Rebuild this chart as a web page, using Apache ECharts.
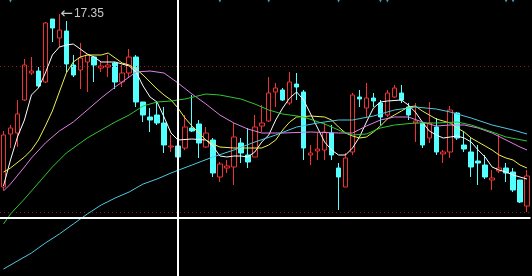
<!DOCTYPE html>
<html><head><meta charset="utf-8">
<script src="https://cdn.jsdelivr.net/npm/echarts/dist/echarts.min.js"></script>
<style>html,body{margin:0;padding:0;background:#000;}#c{width:532px;height:276px;}</style>
</head><body><div id="c"></div>
<script>
// ---- data ----
const opens = [13.89,14.95,14.97,15.63,16.17,16.21,15.99,17.25,16.87,17.01,
16.33,16.23,16.39,16.49,16.27,16.29,16.37,15.99,16.17,16.49,
15.59,15.29,15.33,15.17,14.69,14.71,14.67,15.07,15.15,14.69,
14.83,14.09,14.27,14.29,14.77,14.53,14.49,15.11,15.21,15.79,
15.83,15.57,15.95,15.79,14.53,14.61,14.63,14.97,14.27,13.89,
14.59,15.69,15.47,15.67,15.57,15.33,15.69,15.77,15.49,15.17,
15.17,14.87,15.09,14.55,14.59,15.37,14.73,14.59,14.41,14.33,
14.03,14.21,14.27,14.19,14.03,13.51];
const closes = [14.93,15.07,15.35,16.33,16.21,15.91,17.17,17.07,17.03,16.35,
16.13,16.47,16.53,16.33,16.31,16.33,15.99,16.17,16.49,15.59,
15.33,15.23,15.17,14.73,14.71,14.49,15.09,15.01,14.77,14.97,
14.17,14.35,14.31,14.89,14.57,14.39,15.09,15.17,15.77,15.87,
15.63,15.99,15.89,14.67,14.57,14.65,14.99,14.53,14.09,14.47,
15.73,15.65,15.67,15.61,15.29,15.77,15.87,15.63,15.33,15.21,
14.73,15.17,14.59,14.59,15.43,14.87,14.65,14.29,14.37,14.09,
14.07,14.27,14.17,13.83,13.59,14.11];
const lows = [13.83,14.67,14.69,15.61,16.13,15.89,15.97,16.79,16.69,16.19,
16.09,15.85,15.79,15.99,16.19,16.09,15.85,15.89,16.09,15.49,
15.19,14.99,15.13,14.57,14.59,14.43,14.63,14.99,14.47,14.67,
14.09,13.99,14.17,13.93,14.37,14.27,14.49,14.99,15.19,15.49,
15.61,15.53,15.63,14.43,14.33,14.43,14.43,14.43,13.43,13.89,
14.53,15.49,15.29,15.49,15.13,15.29,15.67,15.57,15.23,14.79,
14.67,14.77,14.53,14.37,14.47,14.83,14.59,14.09,13.93,14.05,
13.83,14.17,13.99,13.79,13.57,13.39];
const highs = [15.01,15.13,15.63,16.45,16.49,16.29,17.19,17.25,17.35,17.21,
16.53,16.77,16.53,16.49,16.39,16.53,16.39,16.33,16.65,16.53,
15.59,15.47,15.59,15.49,14.93,14.83,15.33,15.73,15.23,15.09,
14.87,14.39,14.43,15.17,14.87,15.07,15.33,15.53,16.09,15.97,
15.87,16.19,16.17,15.83,14.73,14.97,15.17,15.13,14.37,14.57,
15.77,15.83,15.97,15.77,15.63,15.83,15.93,15.93,15.57,15.57,
15.17,15.59,15.27,14.63,15.51,15.39,14.99,14.87,14.73,14.53,
14.23,14.93,14.37,14.27,14.03,14.23];

// moving averages, [day index, value]
const ma5 = [[0,13.91],[1,14.43],[2,14.89],[3,15.23],[4,15.73],[5,15.87],[6,16.17],[7,16.53],[8,16.69],[9,16.73],
[10,16.75],[11,16.65],[12,16.55],[13,16.49],[14,16.39],[16,16.39],[18,16.31],[19,16.19],
[20,15.91],[21,15.69],[22,15.59],[23,15.29],[24,14.97],[25,14.83],[27,14.85],[29,14.83],
[30,14.71],[31,14.51],[32,14.49],[33,14.51],[34,14.51],[35,14.49],[36,14.59],[37,14.79],[38,14.93],[39,15.23],
[40,15.47],[41,15.67],[42,15.79],[43,15.63],[44,15.35],[45,15.07],[46,14.79],[47,14.63],[48,14.53],[49,14.53],
[50,14.67],[51,14.89],[52,15.19],[53,15.47],[54,15.59],[55,15.61],[57,15.63],[58,15.53],[59,15.39],
[60,15.19],[61,15.01],[62,14.93],[63,14.87],[64,14.89],[65,14.91],[66,14.87],[67,14.79],[68,14.63],[69,14.49],
[70,14.29],[71,14.23],[72,14.19],[73,14.13],[74,14.09],[75,14.05]];
const ma10 = [[0,14.19],[1,14.27],[3,14.49],[4,14.63],[5,14.83],[6,15.11],[7,15.41],[8,15.79],[9,16.17],
[10,16.39],[11,16.49],[12,16.53],[14,16.53],[15,16.57],[16,16.47],[17,16.37],[18,16.33],[19,16.25],
[20,16.13],[21,15.99],[22,15.85],[23,15.73],[24,15.63],[25,15.47],[26,15.27],[27,15.11],[28,14.97],[29,14.83],
[30,14.75],[31,14.69],[33,14.67],[36,14.67],[37,14.67],[38,14.73],[39,14.83],
[40,15.03],[41,15.19],[42,15.29],[44,15.31],[46,15.29],[47,15.23],[48,15.09],[49,14.97],
[50,14.91],[51,14.87],[52,14.89],[53,14.99],[54,15.11],[55,15.25],[56,15.33],[57,15.41],[58,15.49],[59,15.51],
[60,15.41],[61,15.33],[62,15.25],[63,15.21],[64,15.17],[65,15.07],[66,14.99],[67,14.87],[68,14.79],[69,14.71],
[70,14.63],[71,14.53],[72,14.47],[73,14.43],[74,14.33],[75,14.27]];
const ma20 = [[0,13.81],[1,13.95],[3,14.29],[4,14.47],[6,14.77],[8,15.01],[10,15.19],[12,15.43],[14,15.67],
[16,15.89],[18,16.09],[19,16.19],[21,16.21],[23,16.17],[25,15.97],[27,15.75],[29,15.55],[31,15.33],[33,15.17],
[35,15.05],[37,14.97],[40,14.97],[44,14.99],[48,14.97],[50,14.97],[52,15.11],[54,15.23],[56,15.29],[58,15.29],
[60,15.19],[62,15.11],[64,15.13],[66,15.13],[68,15.07],[70,14.97],[72,14.83],[74,14.69],[75,14.63]];
const ma30 = [[0,13.15],[1,13.35],[3,13.65],[5,13.97],[7,14.29],[9,14.57],[12,14.87],[14,15.03],[16,15.19],
[18,15.33],[20,15.51],[22,15.59],[24,15.61],[26,15.65],[29,15.75],[31,15.73],[34,15.65],[36,15.55],[38,15.43],
[40,15.35],[43,15.29],[46,15.15],[49,14.97],[50,14.93],[52,14.95],[54,15.07],[56,15.13],[59,15.17],[62,15.17],
[65,15.19],[67,15.13],[70,14.99],[72,14.89],[75,14.81]];
const ma60 = [[0,12.25],[2,12.41],[4,12.57],[6,12.77],[8,12.95],[10,13.15],[12,13.35],[14,13.53],[16,13.67],
[18,13.79],[20,13.95],[22,14.05],[24,14.17],[27,14.33],[30,14.49],[33,14.63],[36,14.79],[39,14.93],[42,15.09],
[45,15.17],[48,15.23],[50,15.23],[53,15.31],[56,15.43],[59,15.49],[62,15.45],[64,15.39],[67,15.27],[70,15.13],
[73,15.03],[75,14.95]];

const gridLevels = [16.31, 13.39];
const crossIndex = 25;
const crossPrice = 13.27;
const signalDays = [1, 31, 38, 48, 54, 55, 72, 73];
const priceMin = 12.11, priceMax = 17.63;

// ---- chart ----
const days = opens.map((_, i) => 'D' + (i + 1));
const kdata = opens.map((o, i) => [o, closes[i], lows[i], highs[i]]);
let maxI = 0; highs.forEach((h, i) => { if (h > highs[maxI]) maxI = i; });

function maSeries(name, data, color) {
  return { name, type: 'line', data, symbol: 'none', connectNulls: true, silent: true,
    lineStyle: { color, width: 1 }, z: 3 };
}

const chart = echarts.init(document.getElementById('c'));
chart.setOption({
  backgroundColor: '#000',
  animation: false,
  grid: { left: -1.5, right: 1.5, top: 0, bottom: 0 },
  xAxis: { type: 'category', data: days, show: false, boundaryGap: true },
  yAxis: { type: 'value', min: priceMin, max: priceMax, show: false, splitLine: { show: false } },
  series: [
    { type: 'line', data: [], silent: true, z: 1,
      markLine: { symbol: 'none', silent: true, label: { show: false },
        lineStyle: { color: '#a01414', width: 1, type: [1, 3] },
        data: gridLevels.map(v => ({ yAxis: v })) } },
    { type: 'candlestick', data: kdata, barWidth: 5, z: 2,
      itemStyle: { color: '#000', color0: '#54ffff', borderColor: '#f03232', borderColor0: '#54ffff', borderWidth: 1 },
      markPoint: { symbol: 'circle', symbolSize: 0, silent: true,
        data: [{ coord: [days[maxI], highs[maxI]], value: highs[maxI].toFixed(2) }],
        label: { show: true, position: 'right', distance: 1, formatter: '{a|\u2190}{b|{c}}',
          rich: {
            a: { fontSize: 15, color: '#c8c8c8', fontFamily: 'DejaVu Sans', padding: [0, 1, 0, 0] },
            b: { fontSize: 12, color: '#c8c8c8', fontFamily: 'Liberation Sans, Arial, sans-serif' }
          } } } },
    maSeries('MA5', ma5, '#ffffff'),
    maSeries('MA10', ma10, '#f0f050'),
    maSeries('MA20', ma20, '#e080e8'),
    maSeries('MA30', ma30, '#30c830'),
    maSeries('MA60', ma60, '#50c8e0'),
    { type: 'scatter', silent: true, z: 4, symbol: 'triangle', symbolRotate: 180, symbolSize: 5,
      itemStyle: { color: '#54c8e8' }, data: signalDays.map(i => [i, priceMax]) },
    { type: 'line', data: [], silent: true, z: 5,
      markLine: { symbol: 'none', silent: true, label: { show: false },
        lineStyle: { color: '#ffffff', width: 2, type: 'solid' },
        data: [{ xAxis: days[crossIndex] }, { yAxis: crossPrice }] } }
  ]
});
</script></body></html>
